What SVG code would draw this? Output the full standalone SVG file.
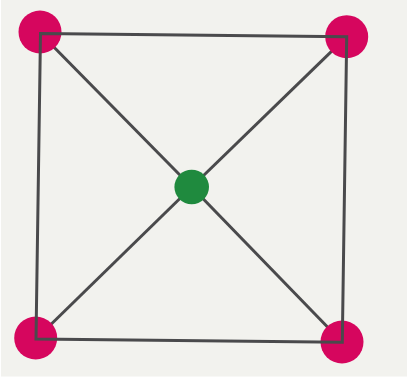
<svg xmlns="http://www.w3.org/2000/svg" width="407" height="379" viewBox="0 0 407 379">
<style>
.edge{stroke:#4a4a4c;stroke-width:3;fill:none;stroke-linecap:butt}
.corner{fill:#d6065e}
.hub{fill:#1f8a3e}
</style>
<rect width="407" height="379" fill="#ffffff"/>
<rect x="1" y="0" width="406" height="376.5" fill="#f2f2ee"/>
<g id="connectors-diagonal">
<line class="edge" x1="40.5" y1="33.5" x2="191.7" y2="187"/>
<line class="edge" x1="346.7" y1="36.7" x2="191.7" y2="187"/>
<line class="edge" x1="36" y1="339" x2="191.7" y2="187"/>
<line class="edge" x1="342.3" y1="342.3" x2="191.7" y2="187"/>
</g>
<g id="node-tl"><circle class="corner" cx="40" cy="32" r="21.5"/></g>
<g id="node-tr"><circle class="corner" cx="346.7" cy="36.7" r="21.5"/></g>
<g id="node-bl"><circle class="corner" cx="35.7" cy="338" r="21.5"/></g>
<g id="node-br"><circle class="corner" cx="342" cy="342" r="21.5"/></g>
<g id="node-center"><circle class="hub" cx="191.7" cy="187" r="17.3"/></g>
<g id="connectors-square">
<polygon class="edge" points="40.5,33.5 346.7,36.7 342.3,342.3 36,339"/>
</g>
</svg>
